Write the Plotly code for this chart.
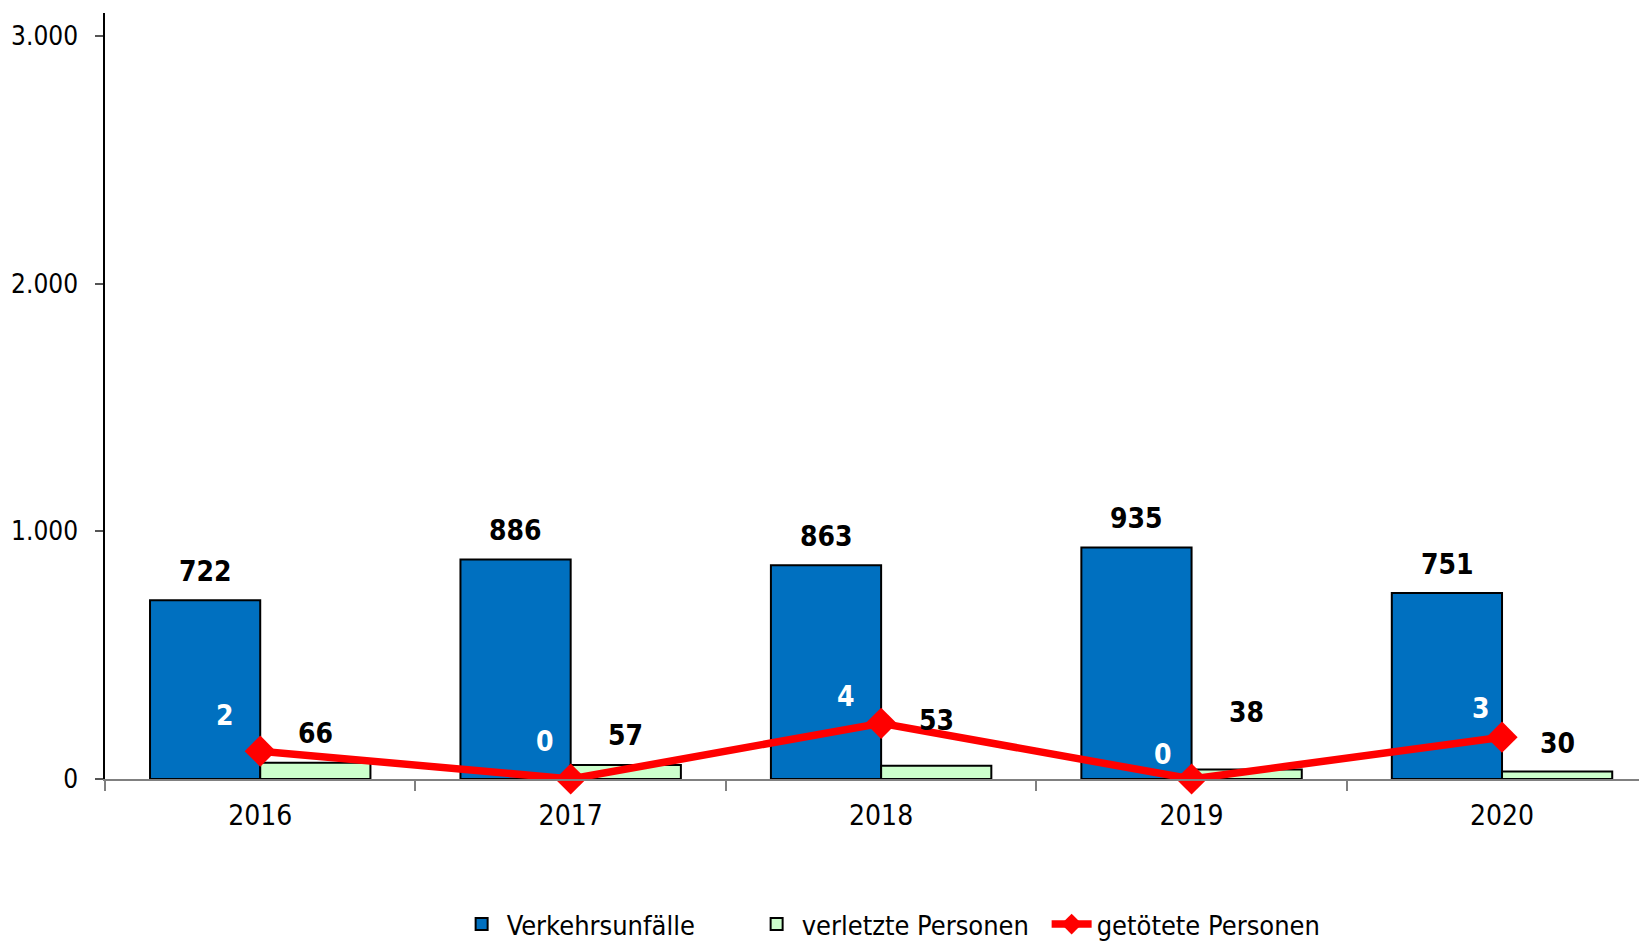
import plotly.graph_objects as go

years = ["2016", "2017", "2018", "2019", "2020"]
unfaelle = [722, 886, 863, 935, 751]
verletzte = [66, 57, 53, 38, 30]
getoetete = [2, 0, 4, 0, 3]

# label nudges (px) - the original labels were moved by hand
verletzte_shift = [29, 29, 45, 57, 28]
getoetete_shift = [(-35, 36), (-26, 38), (-35, 27), (-29, 25), (-21, 29)]

FONT = "DejaVu Sans Condensed, Liberation Sans Narrow, Arial Narrow, Liberation Sans, sans-serif"

fig = go.Figure()
fig.add_trace(go.Bar(
    x=years, y=unfaelle, name="Verkehrsunfälle",
    marker={"color": "#0070C0", "line": {"color": "#000000", "width": 2}},
))
fig.add_trace(go.Bar(
    x=years, y=verletzte, name="verletzte Personen",
    marker={"color": "#CCFFCC", "line": {"color": "#000000", "width": 2}},
))
fig.add_trace(go.Scatter(
    x=years, y=getoetete, name="getötete Personen", yaxis="y2",
    mode="lines+markers", cliponaxis=False,
    line={"color": "#FF0000", "width": 7.5},
    marker={"symbol": "diamond", "size": 24, "color": "#FF0000"},
))

annotations = []
for i, v in enumerate(unfaelle):
    annotations.append(dict(x=i, y=v, xref="x", yref="y", text=f"<b>{v}</b>",
                            showarrow=False, xshift=-55, yshift=29,
                            font={"size": 28, "color": "#000000"}))
for i, (v, s) in enumerate(zip(verletzte, verletzte_shift)):
    annotations.append(dict(x=i, y=v, xref="x", yref="y", text=f"<b>{v}</b>",
                            showarrow=False, xshift=55, yshift=s,
                            font={"size": 28, "color": "#000000"}))
for i, (v, (dx, dy)) in enumerate(zip(getoetete, getoetete_shift)):
    annotations.append(dict(x=i, y=v, xref="x", yref="y2", text=f"<b>{v}</b>",
                            showarrow=False, xshift=dx, yshift=dy,
                            font={"size": 28, "color": "#FFFFFF"}))

# page body adds an 8px margin, so the figure is 8px smaller and margins trimmed
fig.update_layout(
    width=1639, height=933,
    paper_bgcolor="#FFFFFF", plot_bgcolor="#FFFFFF",
    font={"family": FONT, "color": "#000000", "size": 28},
    margin={"l": 97, "r": 0, "t": 5, "b": 162, "autoexpand": False},
    barmode="group", bargap=0.29, bargroupgap=0,
    showlegend=True,
    legend={"orientation": "h", "x": 0.515, "xanchor": "center", "y": -0.19, "yanchor": "middle",
            "font": {"size": 27}, "itemwidth": 40, "tracegroupgap": 0,
            "entrywidth": 240},
    annotations=annotations,
    xaxis={
        "type": "category", "automargin": False,
        "range": [-0.5, 4.467], "showgrid": False, "zeroline": False,
        "showline": True, "linecolor": "#808080", "linewidth": 2,
        "ticks": "outside", "tickson": "boundaries", "ticklen": 10,
        "tickcolor": "#808080", "tickwidth": 1.5,
        "ticklabelstandoff": 10, "tickfont": {"size": 28},
    },
    yaxis={
        "automargin": False,
        "range": [0, 3093], "tickvals": [0, 1000, 2000, 3000],
        "ticktext": ["0", "1.000", "2.000", "3.000"],
        "showgrid": False, "zeroline": False,
        "showline": True, "linecolor": "#000000", "linewidth": 1.5,
        "ticks": "outside", "ticklen": 8, "tickcolor": "#555555", "tickwidth": 1.5,
        "ticklabelstandoff": 12, "tickfont": {"size": 26},
    },
    yaxis2={
        "range": [0, 55], "overlaying": "y", "side": "right", "visible": False,
        "automargin": False,
    },
    yaxis3={
        "automargin": False,
        "range": [0, 3093], "overlaying": "y", "side": "left",
        "tickvals": [0, 1000, 2000, 3000], "showticklabels": False,
        "showgrid": False, "zeroline": False, "showline": False,
        "ticks": "inside", "ticklen": 8, "tickcolor": "#555555", "tickwidth": 1.5,
    },
)

fig.write_html("out.html")
